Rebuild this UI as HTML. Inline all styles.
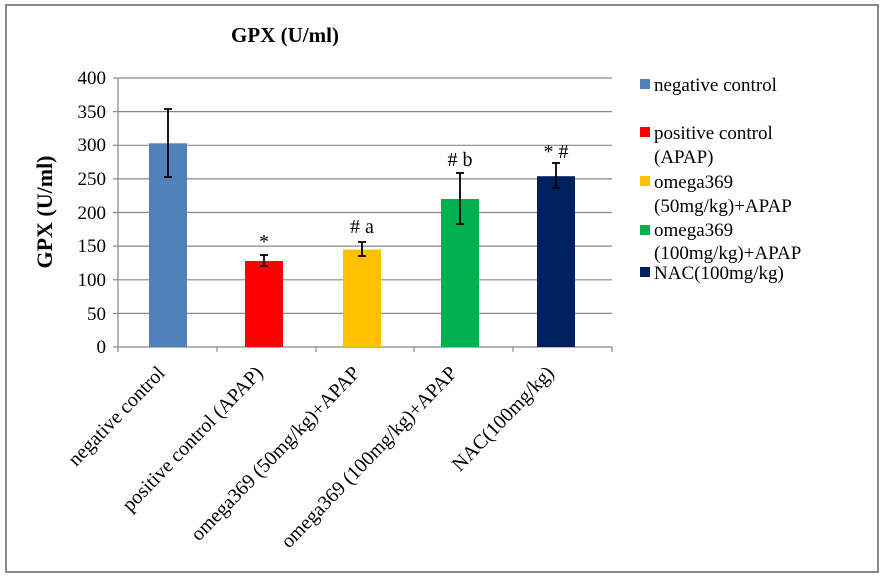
<!DOCTYPE html>
<html><head><style>body{margin:0;background:#fff}svg{display:block}</style></head><body>
<svg width="885" height="578" xmlns="http://www.w3.org/2000/svg" font-family="Liberation Serif, serif">
<rect x="6" y="5" width="872" height="567" fill="#fff" stroke="#888" stroke-width="2"/>
<text x="285" y="42" font-size="21" font-weight="bold" text-anchor="middle">GPX (U/ml)</text>
<text transform="translate(52,212) rotate(-90)" font-size="22" font-weight="bold" text-anchor="middle">GPX (U/ml)</text>
<g stroke="#888" stroke-width="1.2">
<line x1="118" y1="78" x2="612" y2="78"/><line x1="118" y1="111.6" x2="612" y2="111.6"/>
<line x1="118" y1="145.3" x2="612" y2="145.3"/><line x1="118" y1="178.9" x2="612" y2="178.9"/>
<line x1="118" y1="212.5" x2="612" y2="212.5"/><line x1="118" y1="246.1" x2="612" y2="246.1"/>
<line x1="118" y1="279.8" x2="612" y2="279.8"/><line x1="118" y1="313.4" x2="612" y2="313.4"/>
<line x1="118" y1="347" x2="612" y2="347"/><line x1="118" y1="78" x2="118" y2="347"/>
<line x1="113" y1="78" x2="118" y2="78"/><line x1="113" y1="111.6" x2="118" y2="111.6"/><line x1="113" y1="145.3" x2="118" y2="145.3"/><line x1="113" y1="178.9" x2="118" y2="178.9"/><line x1="113" y1="212.5" x2="118" y2="212.5"/><line x1="113" y1="246.1" x2="118" y2="246.1"/><line x1="113" y1="279.8" x2="118" y2="279.8"/><line x1="113" y1="313.4" x2="118" y2="313.4"/><line x1="113" y1="347" x2="118" y2="347"/>
<line x1="118" y1="347" x2="118" y2="352"/><line x1="217" y1="347" x2="217" y2="352"/><line x1="316" y1="347" x2="316" y2="352"/><line x1="414" y1="347" x2="414" y2="352"/><line x1="513" y1="347" x2="513" y2="352"/><line x1="612" y1="347" x2="612" y2="352"/>
</g>
<g font-size="19" text-anchor="end">
<text x="106" y="84">400</text><text x="106" y="118">350</text><text x="106" y="151">300</text><text x="106" y="185">250</text><text x="106" y="219">200</text><text x="106" y="252">150</text><text x="106" y="286">100</text><text x="106" y="320">50</text><text x="106" y="353">0</text>
</g>
<rect x="149" y="143.3" width="38" height="203.7" fill="#4f81bd"/>
<rect x="245" y="261" width="38" height="86" fill="#ff0000"/>
<rect x="343" y="249.6" width="38" height="97.4" fill="#ffc000"/>
<rect x="441" y="199" width="38" height="148" fill="#00b050"/>
<rect x="537" y="176.2" width="38" height="170.8" fill="#002060"/>
<g stroke="#000" stroke-width="1.8">
<line x1="168" y1="109" x2="168" y2="177"/><line x1="164" y1="109" x2="172" y2="109"/><line x1="164" y1="177" x2="172" y2="177"/>
<line x1="264" y1="255" x2="264" y2="266"/><line x1="260" y1="255" x2="268" y2="255"/><line x1="260" y1="266" x2="268" y2="266"/>
<line x1="362" y1="242" x2="362" y2="256"/><line x1="358" y1="242" x2="366" y2="242"/><line x1="358" y1="256" x2="366" y2="256"/>
<line x1="460" y1="173" x2="460" y2="224"/><line x1="456" y1="173" x2="464" y2="173"/><line x1="456" y1="224" x2="464" y2="224"/>
<line x1="556" y1="163" x2="556" y2="188"/><line x1="552" y1="163" x2="560" y2="163"/><line x1="552" y1="188" x2="560" y2="188"/>
</g>
<g font-size="20" text-anchor="middle">
<text x="264" y="248">*</text><text x="362" y="233">#&#160;a</text><text x="460" y="166">#&#160;b</text><text x="556" y="158">*&#160;#</text>
</g>
<g font-size="20" text-anchor="end">
<text transform="translate(166,374) rotate(-46)">negative control</text>
<text transform="translate(264,374) rotate(-46)">positive control (APAP)</text>
<text transform="translate(361,374) rotate(-46)">omega369 (50mg/kg)+APAP</text>
<text transform="translate(458,374) rotate(-46)">omega369 (100mg/kg)+APAP</text>
<text transform="translate(555,374) rotate(-46)">NAC(100mg/kg)</text>
</g>
<rect x="640" y="79" width="10" height="10" fill="#4f81bd"/>
<rect x="640" y="127" width="10" height="10" fill="#ff0000"/>
<rect x="640" y="176" width="10" height="10" fill="#ffc000"/>
<rect x="640" y="225" width="10" height="10" fill="#00b050"/>
<rect x="640" y="267" width="10" height="10" fill="#002060"/>
<g font-size="19">
<text x="654" y="91">negative control</text>
<text x="654" y="139">positive control</text>
<text x="654" y="163">(APAP)</text>
<text x="654" y="188">omega369</text>
<text x="654" y="212">(50mg/kg)+APAP</text>
<text x="654" y="236">omega369</text>
<text x="654" y="259">(100mg/kg)+APAP</text>
<text x="654" y="279">NAC(100mg/kg)</text>
</g>
</svg>
</body></html>
